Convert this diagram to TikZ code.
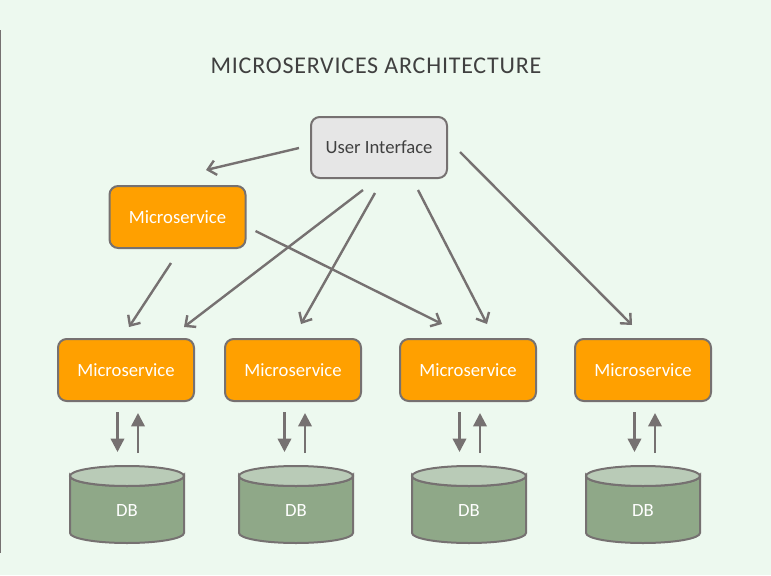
\documentclass[tikz,border=0pt]{standalone}
\usepackage{fontspec}
\setmainfont{Carlito}
\usetikzlibrary{backgrounds,arrows.meta,calc}

\definecolor{bgmint}{HTML}{EDF9EF}
\definecolor{linegray}{HTML}{767171}
\definecolor{uigray}{HTML}{E6E6E6}
\definecolor{textgray}{HTML}{404040}
\definecolor{msorange}{HTML}{FFA000}
\definecolor{dbbody}{HTML}{8FA888}
\definecolor{dbtop}{HTML}{B9CBB7}

\tikzset{
  uibox/.style={draw=linegray, line width=1.5pt, fill=uigray, rounded corners=6.5pt,
    minimum width=102pt, minimum height=45.75pt, text=textgray,
    font=\fontsize{14}{16}\selectfont},
  msbox/.style={uibox, fill=msorange, text=white, minimum height=46.5pt},
  dbnode/.style={minimum width=85.5pt, minimum height=57.75pt, inner sep=0pt, outer sep=0pt,
    text height=18.5pt, text depth=0pt, text=white, font=\fontsize{14}{16}\selectfont},
  dbshell/.style={draw=linegray, line width=1.5pt},
  conn/.style={draw=linegray, line width=1.8pt, -{Straight Barb[length=6pt,width=11pt]}},
  dbflow/.style={draw=linegray, line width=1.8pt, -{Triangle[length=10pt,width=10pt]}},
}

\begin{document}
\begin{tikzpicture}[x=0.75pt, y=-0.75pt]

\useasboundingbox (0,0) rectangle (771,575);
\draw[linegray, line width=1pt] (0.5,30) -- (0.5,553);

\node[font=\fontsize{18}{20}\selectfont\addfontfeatures{LetterSpace=3.2}, text=textgray] (title) at (376,66) {MICROSERVICES ARCHITECTURE};

\node[uibox] (ui) at (379,147.5) {User Interface};
\node[msbox] (ms0) at (177.5,217) {Microservice};

\node[msbox] (msA) at (126,370) {Microservice};
\node[msbox] (msB) at (293,370) {Microservice};
\node[msbox] (msC) at (468,370) {Microservice};
\node[msbox] (msD) at (643,370) {Microservice};

\node[dbnode] (dbA) at (127,504.5) {DB};
\node[dbnode] (dbB) at (296,504.5) {DB};
\node[dbnode] (dbC) at (469,504.5) {DB};
\node[dbnode] (dbD) at (643,504.5) {DB};

% cylinders behind the DB labels
\begin{scope}[on background layer]
\fill[bgmint] (0,0) rectangle (771,575);
\foreach \c in {A,B,C,D}{
  \filldraw[dbshell, fill=dbbody] ($(db\c.north west)+(0,10)$) -- ($(db\c.south west)+(0,-10)$)
    arc[start angle=180, end angle=0, x radius=57, y radius=10]
    -- ($(db\c.north east)+(0,10)$)
    arc[start angle=0, end angle=180, x radius=57, y radius=10] -- cycle;
  \filldraw[dbshell, fill=dbtop] ($(db\c.north)+(0,10)$) ellipse[x radius=57, y radius=10];
}
\end{scope}

% user interface calls
\draw[conn] ($(ui.west)+(-11,0.5)$) -- ($(ms0.north)+(28.5,-15)$);
\draw[conn] ($(ui.south)+(-16,11)$) -- ($(msA.north east)+(-11,-11)$);
\draw[conn] ($(ui.south)+(-4,14)$) -- ($(msB.north)+(8,-14)$);
\draw[conn] ($(ui.south)+(39,11)$) -- ($(msC.north)+(19,-14)$);
\draw[conn] ($(ui.east)+(12,4.5)$) -- ($(msD.north)+(-11,-13)$);

% service to service
\draw[conn] ($(ms0.south)+(-6.5,14)$) -- ($(msA.north)+(3,-11)$);
\draw[conn] ($(ms0.east)+(9,14)$) -- ($(msC.north)+(-26,-14)$);

% each service and its store
\foreach \c in {A,B,C,D}{
  \draw[dbflow] ($(ms\c.south)+(-8.5,10)$) -- ($(ms\c.south |- db\c.north)+(-8.5,-14)$);
  \draw[dbflow] ($(ms\c.south |- db\c.north)+(12,-13)$) -- ($(ms\c.south)+(12,11)$);
}
\end{tikzpicture}
\end{document}
